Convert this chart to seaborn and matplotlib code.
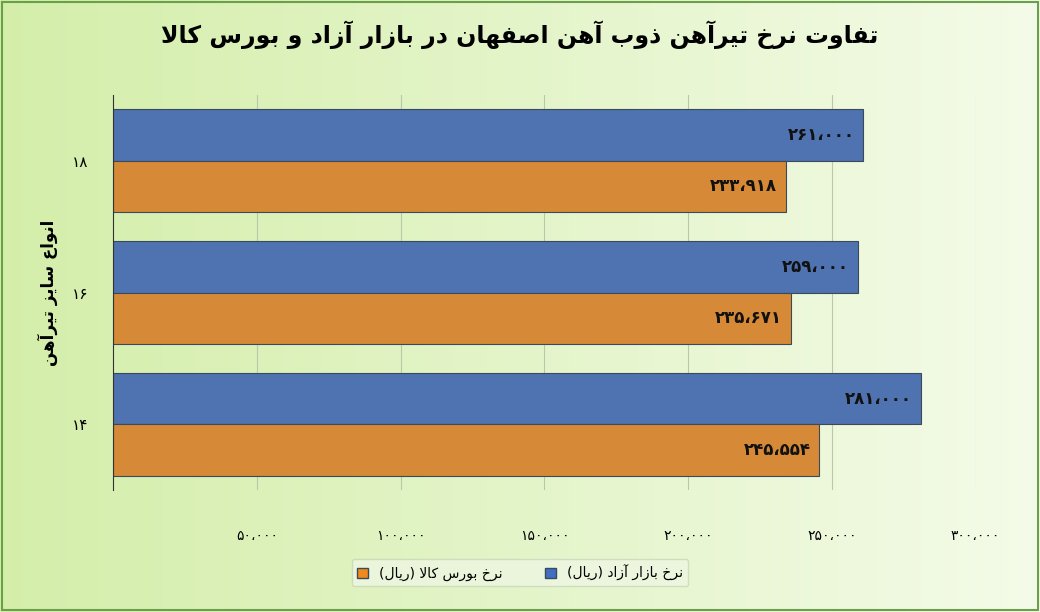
import numpy as np
import pandas as pd
import matplotlib
matplotlib.use("Agg")
import matplotlib.pyplot as plt
import seaborn as sns
from matplotlib.patches import Rectangle, Patch

# Data
sizes = ["۱۸", "۱۶", "۱۴"]
free_market = [261000, 259000, 281000]
exchange = [233918, 235671, 245554]
free_label = "نرخ بازار آزاد (ریال)"
exch_label = "نرخ بورس کالا (ریال)"
title = "تفاوت نرخ تیرآهن ذوب آهن اصفهان در بازار آزاد و بورس کالا"
ylabel = "انواع سایز تیرآهن"
xticks = [50000, 100000, 150000, 200000, 250000, 300000]

# minimal Persian shaping (isolated, final, initial, medial)
FORMS = {
    "ا": (0xFE8D, 0xFE8E, None, None), "آ": (0xFE81, 0xFE82, None, None),
    "د": (0xFEA9, 0xFEAA, None, None), "ذ": (0xFEAB, 0xFEAC, None, None),
    "ر": (0xFEAD, 0xFEAE, None, None), "ز": (0xFEAF, 0xFEB0, None, None),
    "و": (0xFEED, 0xFEEE, None, None),
    "ب": (0xFE8F, 0xFE90, 0xFE91, 0xFE92), "ت": (0xFE95, 0xFE96, 0xFE97, 0xFE98),
    "ح": (0xFEA1, 0xFEA2, 0xFEA3, 0xFEA4), "خ": (0xFEA5, 0xFEA6, 0xFEA7, 0xFEA8),
    "س": (0xFEB1, 0xFEB2, 0xFEB3, 0xFEB4), "ش": (0xFEB5, 0xFEB6, 0xFEB7, 0xFEB8),
    "ص": (0xFEB9, 0xFEBA, 0xFEBB, 0xFEBC), "ع": (0xFEC9, 0xFECA, 0xFECB, 0xFECC),
    "ف": (0xFED1, 0xFED2, 0xFED3, 0xFED4), "ل": (0xFEDD, 0xFEDE, 0xFEDF, 0xFEE0),
    "م": (0xFEE1, 0xFEE2, 0xFEE3, 0xFEE4), "ن": (0xFEE5, 0xFEE6, 0xFEE7, 0xFEE8),
    "ه": (0xFEE9, 0xFEEA, 0xFEEB, 0xFEEC), "ی": (0xFBFC, 0xFBFD, 0xFBFE, 0xFBFF),
    "ک": (0xFB8E, 0xFB8F, 0xFB90, 0xFB91),
}


def shape(text):
    chars = list(text)
    out = []
    i = 0
    while i < len(chars):
        c = chars[i]
        if c not in FORMS:
            out.append(c)
            i += 1
            continue
        prev = chars[i - 1] if i > 0 else None
        joins_prev = prev in FORMS and FORMS[prev][2] is not None
        if c == "ل" and i + 1 < len(chars) and chars[i + 1] in ("ا", "آ"):
            if chars[i + 1] == "ا":
                out.append(chr(0xFEFC if joins_prev else 0xFEFB))
            else:
                out.append(chr(0xFEF6 if joins_prev else 0xFEF5))
            i += 2
            continue
        nxt = chars[i + 1] if i + 1 < len(chars) else None
        joins_next = FORMS[c][2] is not None and nxt in FORMS
        iso, fin, ini, med = FORMS[c]
        if joins_prev and joins_next:
            out.append(chr(med))
        elif joins_prev:
            out.append(chr(fin))
        elif joins_next:
            out.append(chr(ini))
        else:
            out.append(chr(iso))
        i += 1
    s = "".join(out)[::-1]
    return s.translate(str.maketrans("()", ")("))


def fa_num(v):
    s = f"{v:,}".replace(",", "،")
    return s.translate(str.maketrans("0123456789", "۰۱۲۳۴۵۶۷۸۹"))


plt.rcParams['font.family'] = ['DejaVu Sans']

df = pd.DataFrame({
    "size": sizes * 2,
    "value": free_market + exchange,
    "series": ["free"] * 3 + ["exch"] * 3,
})

fig = plt.figure(figsize=(10.4, 6.12), dpi=100)

# green gradient background
bg = fig.add_axes([0, 0, 1, 1], zorder=-5)
grad = np.linspace(0, 1, 256).reshape(1, -1)
cmap = matplotlib.colors.LinearSegmentedColormap.from_list("g", ["#d4eeaa", "#f4fbe8"])
bg.imshow(grad, aspect="auto", cmap=cmap, extent=[0, 1, 0, 1])
bg.add_patch(Rectangle((0.002, 0.003), 0.996, 0.994, fill=False, ec="#6aa04a", lw=1.5))
bg.set_axis_off()

ax = fig.add_axes([0.109, 0.199, 0.829, 0.646])
ax.patch.set_alpha(0)
sns.barplot(data=df, y="size", x="value", hue="series", orient="h",
            palette={"free": "#3f6fc0", "exch": "#f08a1c"}, ax=ax,
            edgecolor="#3a4a5a", linewidth=0.8, legend=False, width=0.78)

# value labels inside the bar ends
for cont in ax.containers:
    for bar in cont:
        w = bar.get_width()
        ax.text(w - 3000, bar.get_y() + bar.get_height() / 2, fa_num(int(round(w))),
                ha="right", va="center", fontsize=12, fontweight="bold", color="#111111")

ax.set_xlim(0, 300000)
ax.set_xticks(xticks)
ax.set_xticklabels([fa_num(v) for v in xticks], fontsize=10)
ax.tick_params(axis="x", length=0, pad=28)
ax.tick_params(axis="y", length=0, pad=18, labelsize=11)
ax.xaxis.grid(True, color="#b8c8a8", lw=0.8)
ax.set_axisbelow(True)
for s in ["top", "right", "bottom"]:
    ax.spines[s].set_visible(False)
ax.spines["left"].set_color("#333333")
ax.set_xlabel("")
ax.set_ylabel(shape(ylabel), fontsize=12, fontweight="bold", labelpad=10)

fig.text(0.5, 0.93, shape(title), ha="center", fontsize=17, fontweight="bold")

handles = [Patch(fc="#f08a1c", ec="#3a4a5a"), Patch(fc="#3f6fc0", ec="#3a4a5a")]
fig.legend(handles, [shape(exch_label), shape(free_label)], ncol=2,
           loc="center", bbox_to_anchor=(0.5, 0.064), fontsize=10,
           frameon=True, facecolor="#eef6e2", edgecolor="#c8d8b8",
           handlelength=0.8, handleheight=0.8, columnspacing=3)

fig.savefig("out.png", dpi=100)
